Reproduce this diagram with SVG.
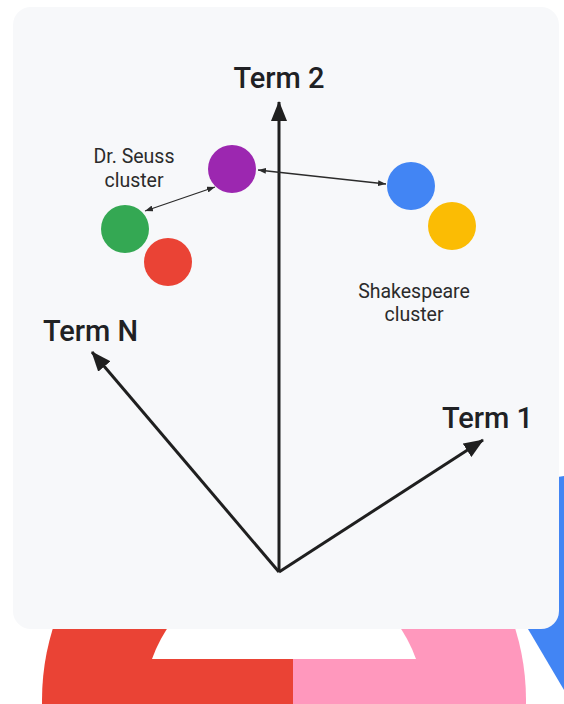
<svg xmlns="http://www.w3.org/2000/svg" width="564" height="704" viewBox="0 0 564 704">
  <style>
    .axis { stroke: #1f1f1f; stroke-width: 3; fill: none; }
    .link { stroke: #2b2b2b; stroke-width: 1.3; fill: none; }
    .term { font-family: Roboto, "Liberation Sans", sans-serif; font-size: 29px; font-weight: 500; fill: #202124; }
    .lbl { font-family: Roboto, "Liberation Sans", sans-serif; font-size: 19.5px; fill: #2b2b2b; text-anchor: middle; }
  </style>
  <defs>
    <marker id="bigHead" viewBox="0 0 20 16" refX="19" refY="8" markerWidth="20" markerHeight="16" markerUnits="userSpaceOnUse" orient="auto">
      <path d="M0,0 L20,8 L0,16 Z" fill="#1f1f1f"/>
    </marker>
    <marker id="smallHead" viewBox="0 0 8 6" refX="8" refY="3" markerWidth="8" markerHeight="6" markerUnits="userSpaceOnUse" orient="auto-start-reverse">
      <path d="M0,0 L8,3 L0,6 Z" fill="#2b2b2b"/>
    </marker>
    <clipPath id="disc">
      <circle cx="284" cy="700" r="242"/>
    </clipPath>
  </defs>

  <rect width="564" height="704" fill="#ffffff"/>

  <!-- decorative shapes behind the card -->
  <g id="backdrop">
    <g clip-path="url(#disc)">
      <rect x="0" y="400" width="293" height="304" fill="#ea4335"/>
      <rect x="293" y="400" width="271" height="304" fill="#ff98bd"/>
    </g>
    <path d="M152,659 A140,140 0 0 1 416,659 Z" fill="#ffffff"/>
    <path d="M520,483 L564,476 L564,690 L528,629 Z" fill="#4285f4"/>
  </g>

  <!-- card -->
  <rect id="card" x="13" y="7" width="546" height="622" rx="18" fill="#f7f8fa"/>

  <!-- axes and links -->
  <g id="connectors">
    <line class="axis" x1="279" y1="572" x2="279" y2="102" marker-end="url(#bigHead)"/>
    <line class="axis" x1="279" y1="572" x2="92" y2="352" marker-end="url(#bigHead)"/>
    <line class="axis" x1="279" y1="572" x2="483" y2="440" marker-end="url(#bigHead)"/>
    <line class="link" x1="145" y1="211" x2="215" y2="187" marker-start="url(#smallHead)" marker-end="url(#smallHead)"/>
    <line class="link" x1="258" y1="170" x2="386" y2="184" marker-start="url(#smallHead)" marker-end="url(#smallHead)"/>
  </g>

  <g id="term2"><text class="term" x="279" y="88" text-anchor="middle">Term 2</text></g>
  <g id="termN"><text class="term" x="43" y="341">Term N</text></g>
  <g id="term1"><text class="term" x="442" y="428">Term 1</text></g>

  <g id="seuss-label">
    <text class="lbl" x="134" y="163">Dr. Seuss</text>
    <text class="lbl" x="134" y="187">cluster</text>
  </g>
  <g id="shakespeare-label">
    <text class="lbl" x="414" y="298">Shakespeare</text>
    <text class="lbl" x="414" y="321">cluster</text>
  </g>

  <g id="purple"><circle cx="232" cy="169" r="24" fill="#9c27b0"/></g>
  <g id="green"><circle cx="125" cy="229" r="24" fill="#34a853"/></g>
  <g id="red"><circle cx="168" cy="262" r="24" fill="#ea4335"/></g>
  <g id="blue"><circle cx="411" cy="186" r="24" fill="#4285f4"/></g>
  <g id="yellow"><circle cx="452" cy="226" r="24" fill="#fbbc04"/></g>
</svg>
